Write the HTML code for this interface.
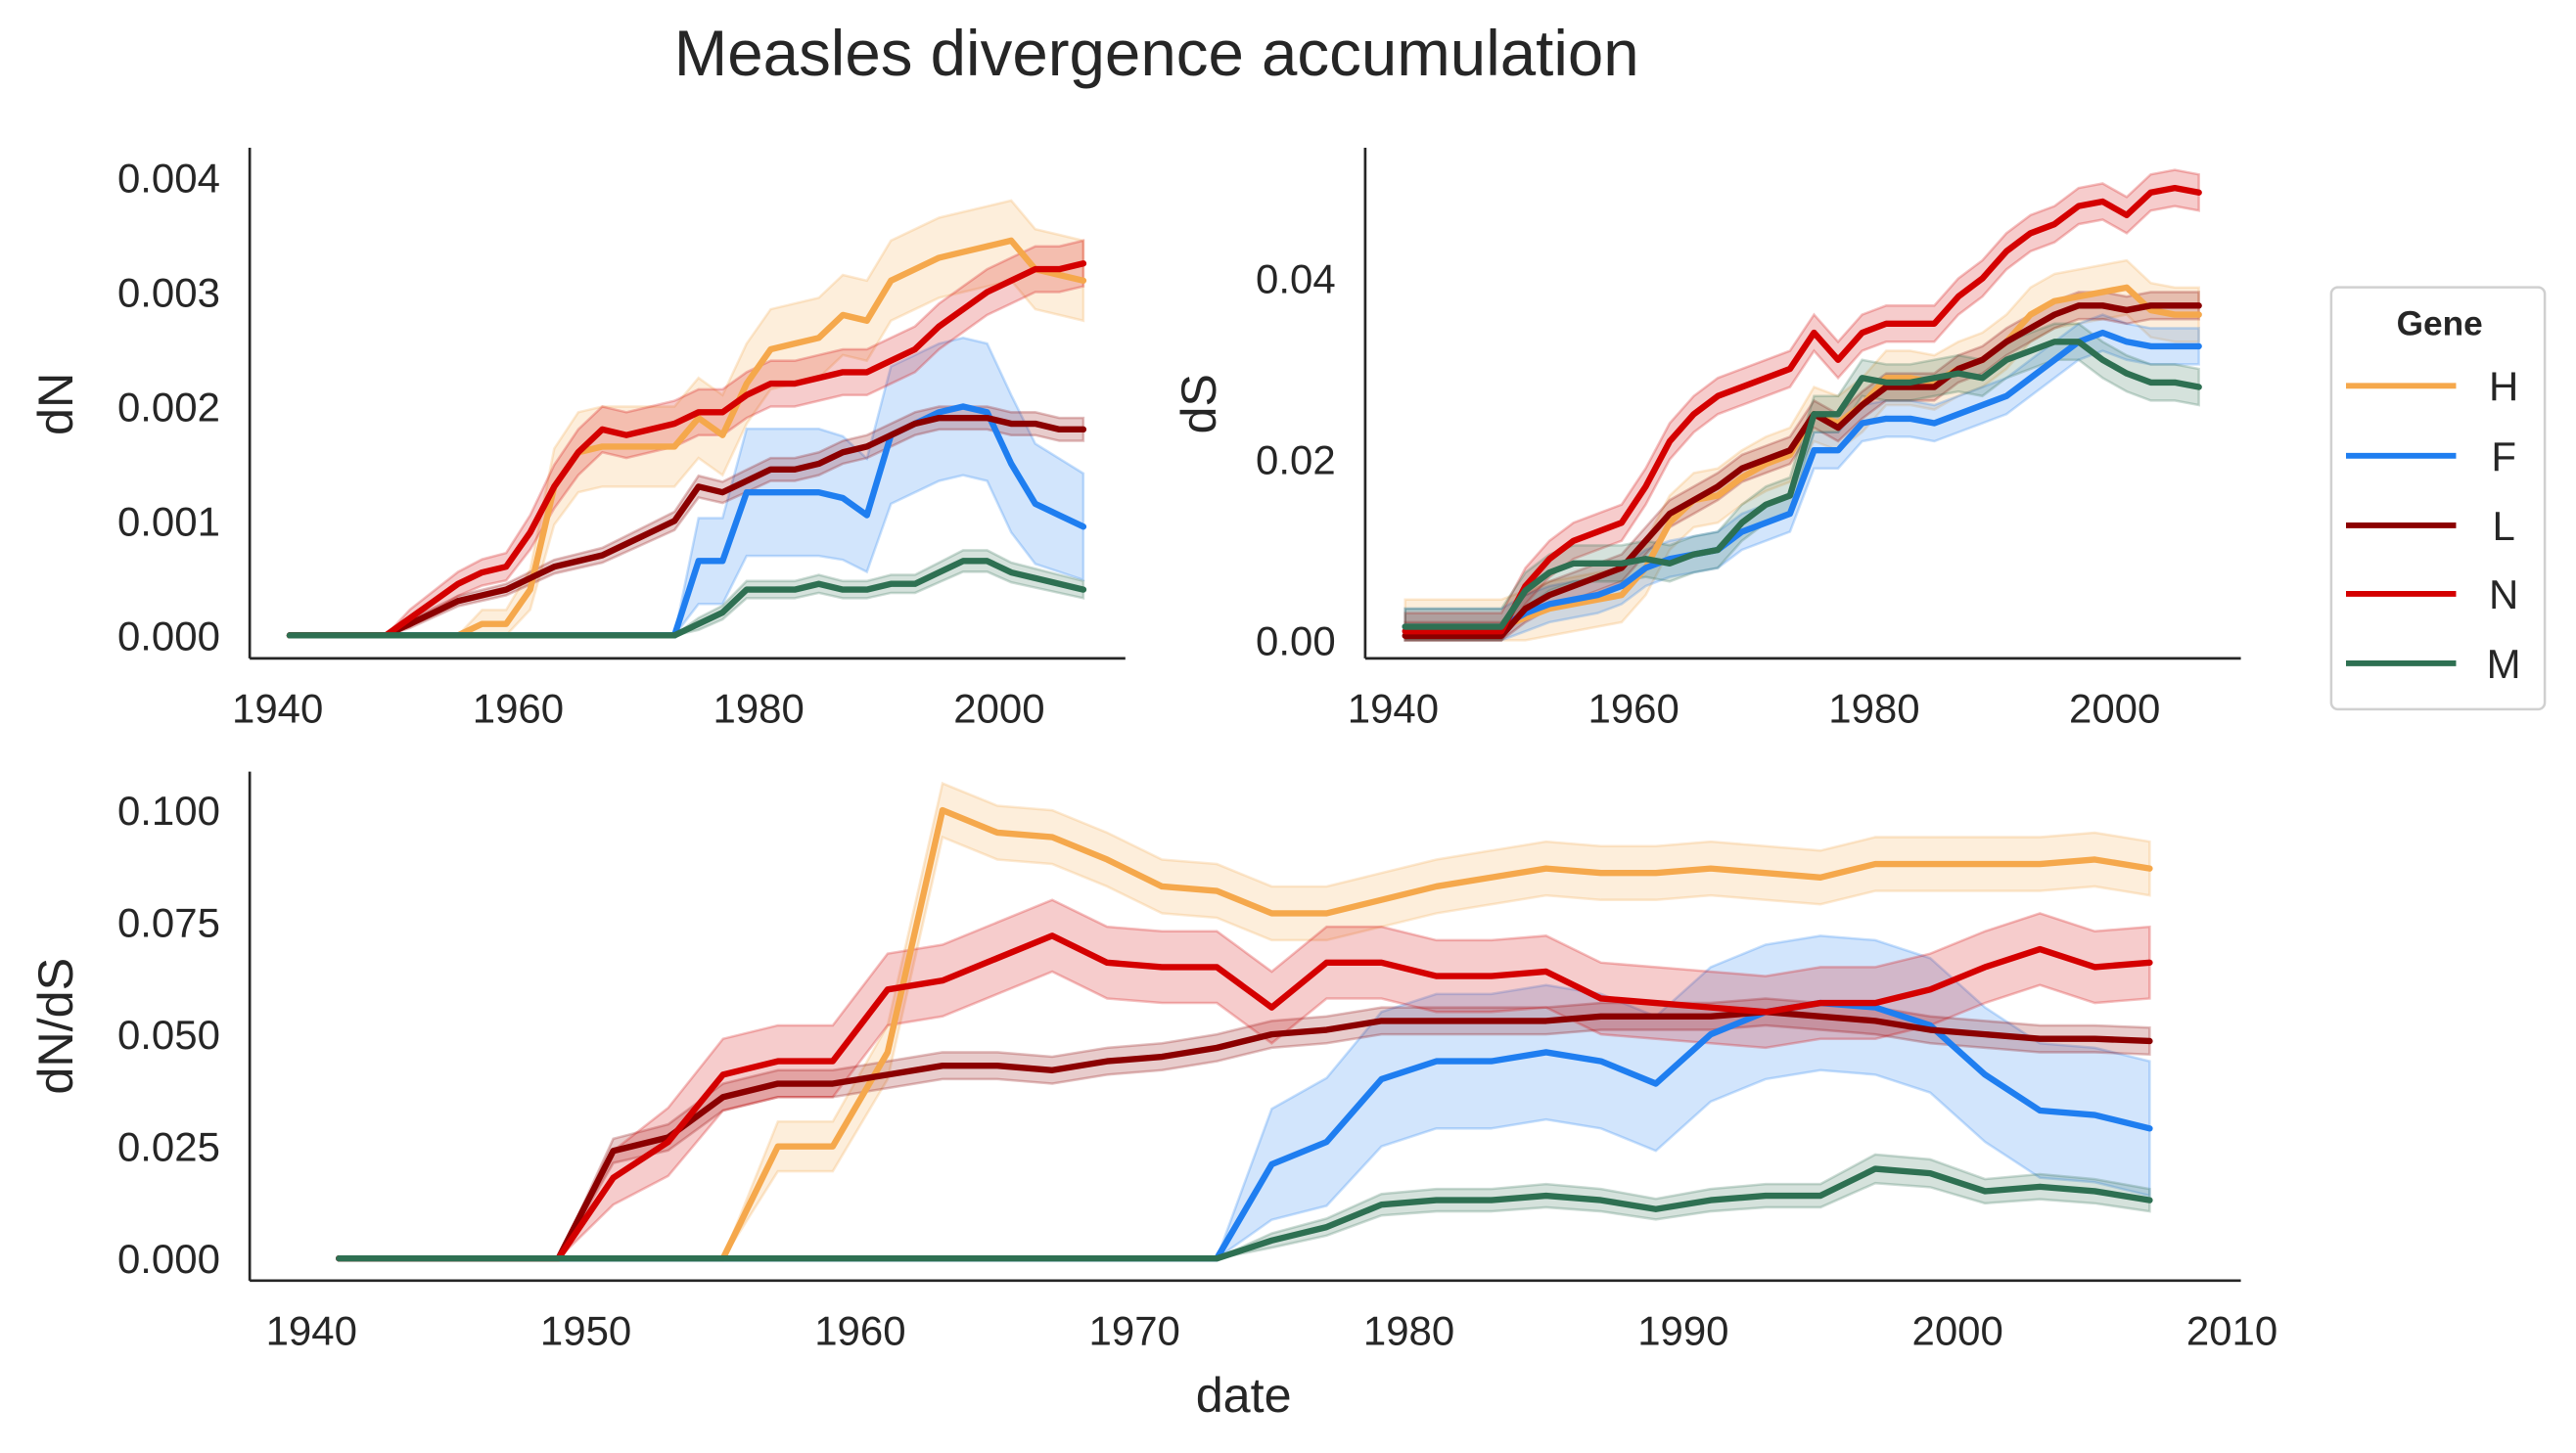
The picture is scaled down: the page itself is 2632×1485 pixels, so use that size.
<!DOCTYPE html>
<html><head><meta charset="utf-8">
<style>
html,body{margin:0;padding:0;background:#fff;}
svg{display:block;font-family:"Liberation Sans",Arial,sans-serif;}
</style></head>
<body>
<svg id="fig" width="2632" height="1485" viewBox="0 0 1568 885" preserveAspectRatio="none" xmlns="http://www.w3.org/2000/svg">
<rect width="1568" height="885" fill="#fff"/>
<text x="704" y="46" font-size="39" text-anchor="middle" fill="#262626">Measles divergence accumulation</text>
<g id="p1"></g>
<g id="p2"></g>
<g id="p3"></g>
<g id="legend">
<rect x="1419" y="175" width="130" height="257" rx="4" fill="#fff" stroke="#d0d0d0" stroke-width="1.5"/>
<text x="1485" y="204" font-size="21" font-weight="bold" text-anchor="middle" fill="#262626">Gene</text>
</g>
</svg>
<script>
const years = [1941,1943,1945,1947,1949,1951,1953,1955,1957,1959,1961,1963,1965,1967,1969,1971,1973,1975,1977,1979,1981,1983,1985,1987,1989,1991,1993,1995,1997,1999,2001,2003,2005,2007];
const genes = ['H','F','L','N','M'];
const colors = ['#f5a84c','#1f7ef0','#8b0000','#d40000','#2e7052'];
// dN in units of 0.001
const dnH = [0,0,0,0,0,0,0,0,0.1,0.1,0.4,1.3,1.6,1.65,1.65,1.65,1.65,1.9,1.75,2.2,2.5,2.55,2.6,2.8,2.75,3.1,3.2,3.3,3.35,3.4,3.45,3.2,3.15,3.1];
const dnF = [0,0,0,0,0,0,0,0,0,0,0,0,0,0,0,0,0,0.65,0.65,1.25,1.25,1.25,1.25,1.2,1.05,1.75,1.85,1.95,2.0,1.95,1.5,1.15,1.05,0.95];
const dnL = [0,0,0,0,0,0.1,0.2,0.3,0.35,0.4,0.5,0.6,0.65,0.7,0.8,0.9,1.0,1.3,1.25,1.35,1.45,1.45,1.5,1.6,1.65,1.75,1.85,1.9,1.9,1.9,1.85,1.85,1.8,1.8];
const dnN = [0,0,0,0,0,0.15,0.3,0.45,0.55,0.6,0.9,1.3,1.6,1.8,1.75,1.8,1.85,1.95,1.95,2.1,2.2,2.2,2.25,2.3,2.3,2.4,2.5,2.7,2.85,3.0,3.1,3.2,3.2,3.25];
const dnM = [0,0,0,0,0,0,0,0,0,0,0,0,0,0,0,0,0,0.1,0.2,0.4,0.4,0.4,0.45,0.4,0.4,0.45,0.45,0.55,0.65,0.65,0.55,0.5,0.45,0.4];
const dnSpread = [0.35,0.6,0.1,0.2,0.15];
// dS in units of 0.01
const dsH = [0.15,0.15,0.15,0.15,0.15,0.25,0.35,0.4,0.45,0.5,0.8,1.3,1.55,1.6,1.8,1.95,2.05,2.5,2.4,2.6,2.9,2.9,2.85,3.0,3.1,3.3,3.6,3.75,3.8,3.85,3.9,3.65,3.6,3.6];
const dsF = [0.15,0.15,0.15,0.15,0.15,0.3,0.4,0.45,0.5,0.6,0.8,0.9,0.95,1.0,1.2,1.3,1.4,2.1,2.1,2.4,2.45,2.45,2.4,2.5,2.6,2.7,2.9,3.1,3.3,3.4,3.3,3.25,3.25,3.25];
const dsL = [0.05,0.05,0.05,0.05,0.05,0.35,0.5,0.6,0.7,0.8,1.1,1.4,1.55,1.7,1.9,2.0,2.1,2.5,2.35,2.6,2.8,2.8,2.8,3.0,3.1,3.3,3.45,3.6,3.7,3.7,3.65,3.7,3.7,3.7];
const dsN = [0.1,0.1,0.1,0.1,0.1,0.6,0.9,1.1,1.2,1.3,1.7,2.2,2.5,2.7,2.8,2.9,3.0,3.4,3.1,3.4,3.5,3.5,3.5,3.8,4.0,4.3,4.5,4.6,4.8,4.85,4.7,4.95,5.0,4.95];
const dsM = [0.15,0.15,0.15,0.15,0.15,0.55,0.75,0.85,0.85,0.85,0.9,0.85,0.95,1.0,1.3,1.5,1.6,2.5,2.5,2.9,2.85,2.85,2.9,2.95,2.9,3.1,3.2,3.3,3.3,3.1,2.95,2.85,2.85,2.8];
const dsSpread = [0.3,0.2,0.15,0.2,0.2];
// dN/dS in units of 0.01
const rH = [0,0,0,0,0,0,0,0,2.5,2.5,4.6,10.0,9.5,9.4,8.9,8.3,8.2,7.7,7.7,8.0,8.3,8.5,8.7,8.6,8.6,8.7,8.6,8.5,8.8,8.8,8.8,8.8,8.9,8.7];
const rF = [0,0,0,0,0,0,0,0,0,0,0,0,0,0,0,0,0,2.1,2.6,4.0,4.4,4.4,4.6,4.4,3.9,5.0,5.5,5.7,5.6,5.2,4.1,3.3,3.2,2.9];
const rL = [0,0,0,0,0,2.4,2.7,3.6,3.9,3.9,4.1,4.3,4.3,4.2,4.4,4.5,4.7,5.0,5.1,5.3,5.3,5.3,5.3,5.4,5.4,5.4,5.5,5.4,5.3,5.1,5.0,4.9,4.9,4.85];
const rN = [0,0,0,0,0,1.8,2.6,4.1,4.4,4.4,6.0,6.2,6.7,7.2,6.6,6.5,6.5,5.6,6.6,6.6,6.3,6.3,6.4,5.8,5.7,5.6,5.5,5.7,5.7,6.0,6.5,6.9,6.5,6.6];
const rM = [0,0,0,0,0,0,0,0,0,0,0,0,0,0,0,0,0,0.4,0.7,1.2,1.3,1.3,1.4,1.3,1.1,1.3,1.4,1.4,2.0,1.9,1.5,1.6,1.5,1.3];
const rSpread = [0.6,1.5,0.3,0.8,0.4];
const dnTicks = ['0.000','0.001','0.002','0.003','0.004'];
const dsTicks = ['0.00','0.02','0.04'];
const rTicks = ['0.000','0.025','0.050','0.075','0.100'];
const xTicksTop = [1940,1960,1980,2000];
const xTicksBot = [1940,1950,1960,1970,1980,1990,2000,2010];

const NS='http://www.w3.org/2000/svg';
function mk(parent,tag,attrs,text){const e=document.createElementNS(NS,tag);for(const k in attrs)e.setAttribute(k,attrs[k]);if(text!==undefined)e.textContent=text;parent.appendChild(e);return e;}

function panel(g,cfg){
  const X=y=>cfg.x0+(y-cfg.yr0)*cfg.xs;
  const Y=v=>cfg.y0-v*cfg.ys;
  const sp1=mk(g,'line',{x1:cfg.L,y1:cfg.T,x2:cfg.L,y2:cfg.B,stroke:'#262626','stroke-width':1.6});
  
  
  const sp2=mk(g,'line',{x1:cfg.L,y1:cfg.B,x2:cfg.R,y2:cfg.B,stroke:'#262626','stroke-width':1.6});
  
  
  cfg.xt.forEach(t=>{
    const e=mk(g,'text',{x:X(t),y:cfg.B+39,'font-size':25,'text-anchor':'middle',fill:'#262626'},String(t));
    
    
  });
  cfg.yt.forEach((t,i)=>{
    const e=mk(g,'text',{x:cfg.L-18,y:Y(i*cfg.ystep)+9,'font-size':25,'text-anchor':'end',fill:'#262626'},t);
    
    
  });
  const yl=mk(g,'text',{transform:`translate(${cfg.ylx},${cfg.yly}) rotate(-90)`,'font-size':30,'text-anchor':'middle',fill:'#262626'},cfg.ylab);
  
  
  cfg.series.forEach((s,si)=>{
    const sp=cfg.spread[si];
    const up=[],lo=[];
    years.forEach((yr,i)=>{
      const v=s[i];const w=(v>0||cfg.always)?sp*(cfg.always?1:Math.min(1,0.3+v/ (cfg.norm))):0;
      up.push(X(yr)+','+Y(v+w));lo.unshift(X(yr)+','+Y(Math.max(0,v-w)));
    });
    const band=mk(g,'polygon',{points:up.concat(lo).join(' '),fill:colors[si],'fill-opacity':0.2,stroke:colors[si],'stroke-opacity':0.25,'stroke-width':1.5});
    
    
  });
  cfg.series.forEach((s,si)=>{
    const pts=years.map((yr,i)=>X(yr)+','+Y(s[i])).join(' ');
    const l=mk(g,'polyline',{points:pts,fill:'none',stroke:colors[si],'stroke-width':3.8,'stroke-linejoin':'round','stroke-linecap':'round'});
    
    
  });
}
panel(document.getElementById('p1'),{L:152,R:685,T:90,B:401,x0:169,yr0:1940,xs:7.32,y0:387,ys:69.7,ystep:1,
  xt:xTicksTop,yt:dnTicks,ylab:'dN',ylx:44,yly:246,series:[dnH,dnF,dnL,dnN,dnM],spread:dnSpread,norm:2,always:false});
panel(document.getElementById('p2'),{L:831,R:1364,T:90,B:401,x0:848,yr0:1940,xs:7.32,y0:390,ys:55.1,ystep:2,
  xt:xTicksTop,yt:dsTicks,ylab:'dS',ylx:740,yly:246,series:[dsH,dsF,dsL,dsN,dsM],spread:dsSpread,norm:2,always:true});
panel(document.getElementById('p3'),{L:152,R:1364,T:470,B:780,x0:189.6,yr0:1940,xs:16.7,y0:766.5,ys:27.3,ystep:2.5,
  xt:xTicksBot,yt:rTicks,ylab:'dN/dS',ylx:44,yly:625,series:[rH,rF,rL,rN,rM],spread:rSpread,norm:4,always:false});
const xl=mk(document.getElementById('p3'),'text',{x:757,y:860,'font-size':30,'text-anchor':'middle',fill:'#262626'},'date');


const lg=document.getElementById('legend');
const ly=[235,277.6,320,361.7,404];
genes.forEach((gname,i)=>{
  const ln=mk(lg,'line',{x1:1428,y1:ly[i],x2:1495,y2:ly[i],stroke:colors[i],'stroke-width':3.5});
  
  
  const t=mk(lg,'text',{x:1524,y:ly[i]+9,'font-size':25,'text-anchor':'middle',fill:'#262626'},gname);
  
  
});
</script>
</body></html>
